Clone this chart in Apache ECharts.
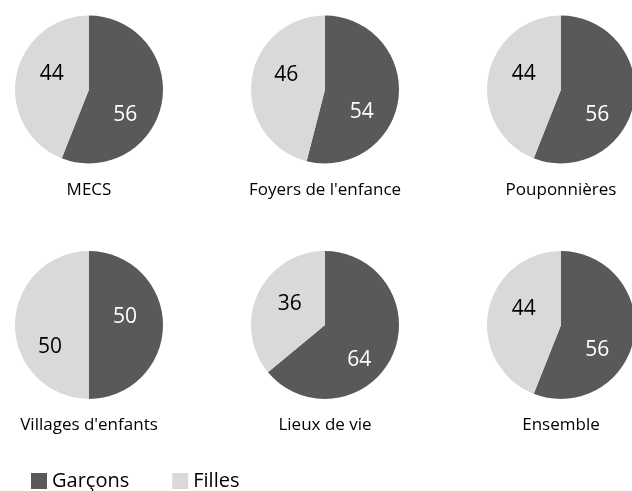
<!DOCTYPE html>
<html>
<head>
<meta charset="utf-8">
<script src="https://cdn.jsdelivr.net/npm/echarts@6/dist/echarts.min.js"></script>
<style>
html,body{margin:0;padding:0;background:#fff;}
#chart{width:632px;height:491px;}
</style>
</head>
<body>
<div id="chart"></div>
<script>
// Data
const categories = ['MECS', "Foyers de l'enfance", 'Pouponnières', "Villages d'enfants", 'Lieux de vie', 'Ensemble'];
const seriesNames = ['Garçons', 'Filles'];
const garcons = [56, 54, 56, 50, 64, 56];
const filles = [44, 46, 44, 50, 36, 44];

// Layout (not data)
const centersX = [89, 325, 561];
const centersY = [89.5, 325];
const radius = 74;
const titleY = [190, 425];
// label nudges to mimic original label placement (dark slice, light slice)
const nudgeDark = [[-3, 18], [-3, 18], [-3, 18], [-4, -8], [-2, 18], [-3, 18]];
const nudgeLight = [[2, -8], [1, -9], [2, -8], [1, 22], [1, -4], [2, -8]];

const DARK = '#595959', LIGHT = '#d9d9d9';
const FONT = '"Open Sans", sans-serif';

const chart = echarts.init(document.getElementById('chart'), null, {renderer: 'canvas'});

const series = categories.map((cat, i) => {
  const cx = centersX[i % 3], cy = centersY[Math.floor(i / 3)];
  return {
    type: 'pie',
    name: cat,
    center: [cx, cy],
    radius: [0, radius],
    startAngle: 90,
    clockwise: true,
    silent: true,
    itemStyle: {borderWidth: 0},
    label: {
      show: true,
      position: 'inside',
      formatter: '{c}',
      fontFamily: FONT,
      fontSize: 21
    },
    labelLine: {show: false},
    labelLayout: function (p) {
      const n = p.dataIndex === 0 ? nudgeDark[i] : nudgeLight[i];
      return {dx: n[0], dy: n[1]};
    },
    emphasis: {disabled: true},
    data: [
      {name: seriesNames[0], value: garcons[i], itemStyle: {color: DARK}, label: {color: '#ffffff'}},
      {name: seriesNames[1], value: filles[i], itemStyle: {color: LIGHT}, label: {color: '#000000'}}
    ]
  };
});

const graphics = categories.map((cat, i) => ({
  type: 'text',
  x: centersX[i % 3],
  y: titleY[Math.floor(i / 3)],
  style: {
    text: cat,
    fill: '#000',
    font: '17px ' + FONT,
    textAlign: 'center',
    textVerticalAlign: 'middle'
  }
}));

chart.setOption({
  animation: false,
  backgroundColor: '#ffffff',
  color: [DARK, LIGHT],
  legend: {
    data: seriesNames,
    left: 31,
    top: 471,
    padding: 0,
    orient: 'horizontal',
    icon: 'rect',
    itemWidth: 16,
    itemHeight: 16,
    itemGap: 43,
    textStyle: {fontFamily: FONT, fontSize: 20, color: '#000', padding: [0, 0, 0, 0]},
    selectedMode: false
  },
  graphic: graphics,
  series: series
});
</script>
</body>
</html>
